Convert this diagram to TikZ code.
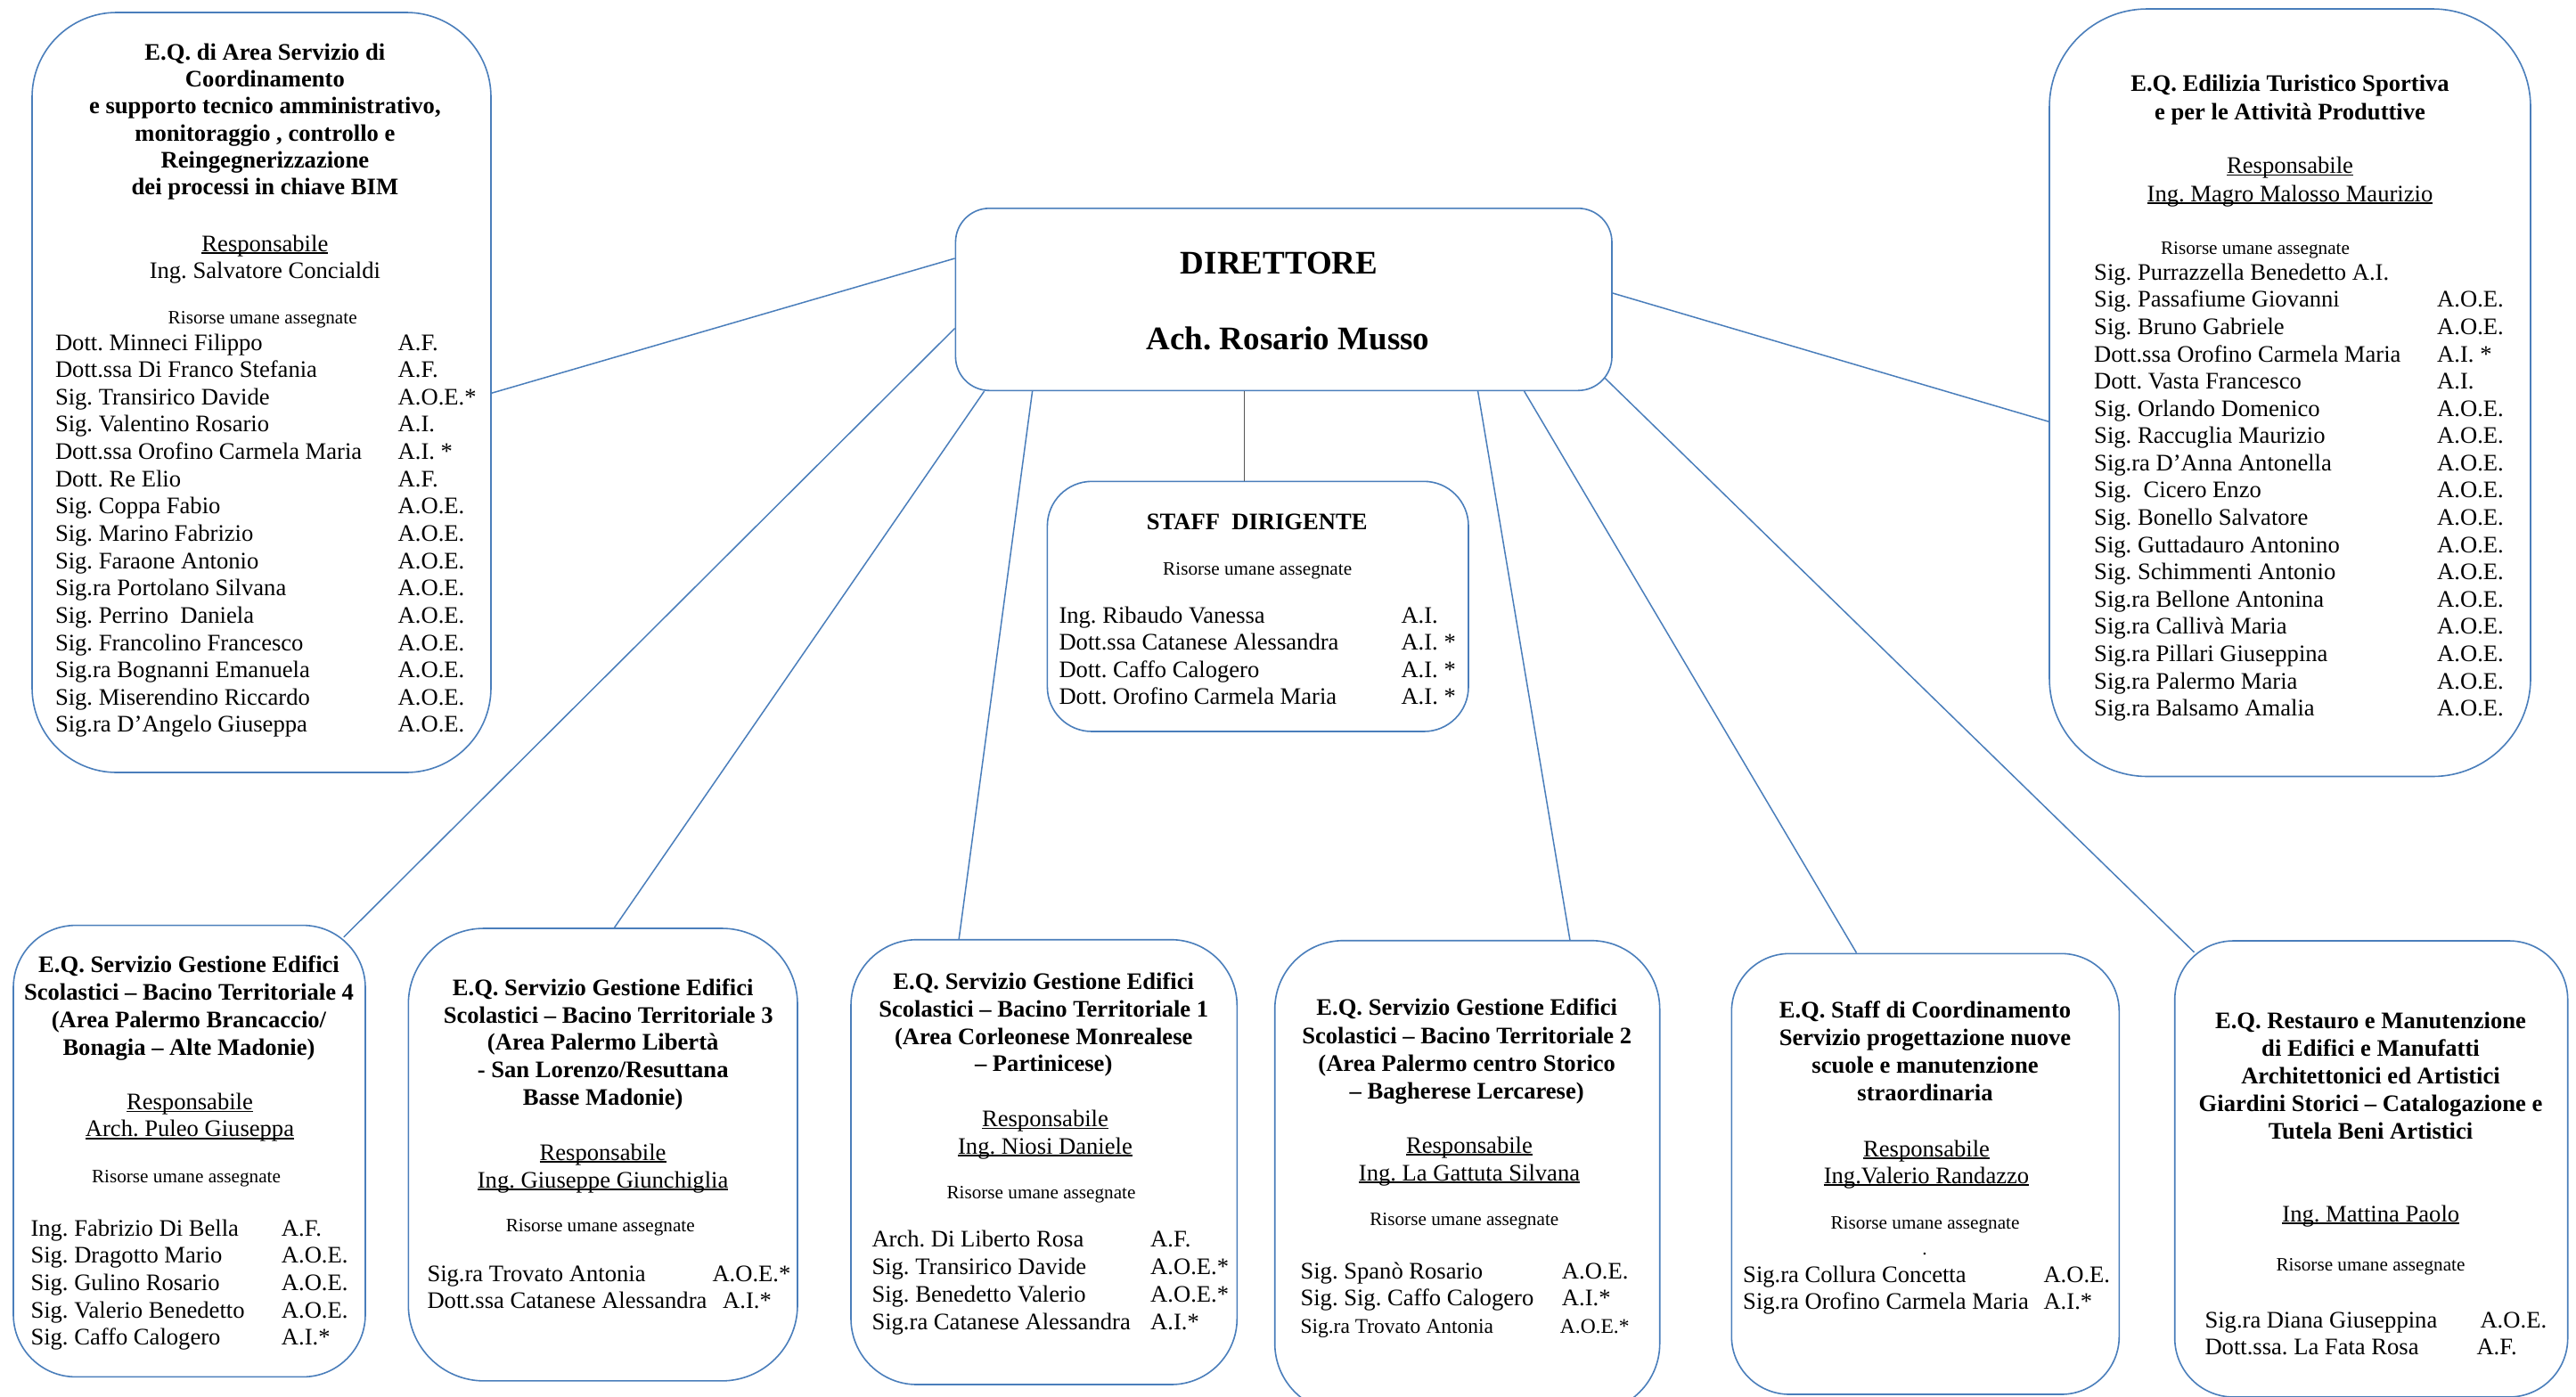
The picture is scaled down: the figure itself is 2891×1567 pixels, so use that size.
\documentclass[tikz,border=0pt]{standalone}
\usepackage{fontspec}
\setmainfont{Liberation Serif}
\frenchspacing
\definecolor{boxblue}{RGB}{74,126,187}
\definecolor{linkgray}{RGB}{85,85,85}
\newlength\ocolw
\newsavebox\ulbx
\newcommand\ulx[1]{\sbox\ulbx{#1}\rlap{\rule[-0.1em]{\wd\ulbx}{0.06em}}\usebox\ulbx}
\newcommand\orow[2]{\makebox[\ocolw][l]{#1}#2}
\tikzset{
  orgbox/.style={draw=boxblue, line width=1.6pt, rounded corners=#1, inner sep=0pt, fill=white},
  link/.style={draw=boxblue, line width=1.5pt},
  ttl/.style={anchor=base, inner sep=0pt, font=\fontsize{26.6}{#1}\selectfont\bfseries},
  ctr/.style={anchor=base, inner sep=0pt, font=\fontsize{26.6}{#1}\selectfont},
  ris/.style={anchor=base, inner sep=0pt, font=\fontsize{21.2}{25}\selectfont},
  lst/.style={anchor=base west, inner sep=0pt, font=\fontsize{26.6}{#1}\selectfont},
  big/.style={anchor=base, inner sep=0pt, font=\fontsize{37}{44}\selectfont\bfseries},
}
\begin{document}
\begin{tikzpicture}[x=1pt,y=-1pt]
\useasboundingbox (0,0) rectangle (2891,1567);
\clip (0,0) rectangle (2891,1567);
\fill[white] (0,0) rectangle (2891,1567);

% boxes
\node[orgbox=95pt, minimum width=515pt, minimum height=853pt] (eqA) at (293.5,440.5) {};
\node[orgbox=110pt, minimum width=540pt, minimum height=861.5pt] (edil) at (2570,440.75) {};
\node[orgbox=38pt, minimum width=736.6pt, minimum height=204.5pt] (dir) at (1440.7,336.05) {};
\node[orgbox=50pt, minimum width=472.6pt, minimum height=280.7pt] (staff) at (1411.7,680.65) {};
\node[orgbox=70pt, minimum width=395pt, minimum height=506.8pt] (b4) at (212.5,1292) {};
\node[orgbox=85pt, minimum width=436.7pt, minimum height=507.9pt] (b3) at (676.65,1295.95) {};
\node[orgbox=74pt, minimum width=433.3pt, minimum height=499.3pt] (b1) at (1171.65,1304.35) {};
\node[orgbox=77pt, minimum width=432pt, minimum height=529.3pt] (b2) at (1646.7,1320.35) {};
\node[orgbox=65pt, minimum width=435pt, minimum height=494.7pt] (sc) at (2160.8,1317.65) {};
\node[orgbox=66pt, minimum width=441pt, minimum height=512pt] (rest) at (2661.2,1312) {};

% connectors
\draw[link] ([yshift=-57pt]dir.north west) -- ([yshift=-428pt]eqA.north east);
\draw[link] ([yshift=-135.5pt]dir.north west) -- ([xshift=-25pt,yshift=-14pt]b4.north east);
\draw[link] ([xshift=33pt]dir.south west) -- ([xshift=232pt]b3.north west);
\draw[link] ([xshift=87pt]dir.south west) -- ([xshift=122pt]b1.north west);
\draw[draw=linkgray, line width=1.5pt] ([xshift=325pt]dir.south west) -- ([xshift=222pt]staff.north west);
\draw[link] ([xshift=587pt]dir.south west) -- ([xshift=332pt]b2.north west);
\draw[link] ([xshift=639pt]dir.south west) -- ([xshift=141pt]sc.north west);
\draw[link] ([xshift=-9pt,yshift=-191pt]dir.north east) -- ([xshift=22.6pt,yshift=-13.6pt]rest.north west);
\draw[link] ([yshift=-96pt]dir.north east) -- ([yshift=-464pt]edil.north west);

% Box A
\node[ttl=30.3] (eqAt) at (297.4,67.3) {\begin{tabular}[t]{@{}c@{}}E.Q. di Area Servizio di\\Coordinamento\\e supporto tecnico amministrativo,\\monitoraggio , controllo e\\Reingegnerizzazione\\dei processi in chiave BIM\end{tabular}};
\node[ctr=30] (eqAr) at (297.4,282) {\begin{tabular}[t]{@{}c@{}}\ulx{Responsabile}\\Ing. Salvatore Concialdi\end{tabular}};
\node[ris] (eqAh) at (294.7,363.6) {Risorse umane assegnate};
\node[lst=30.64] (eqAl) at (61.8,393) {\setlength\ocolw{384.7pt}\begin{tabular}[t]{@{}l@{}}
\orow{Dott. Minneci Filippo}{A.F.}\\
\orow{Dott.ssa Di Franco Stefania}{A.F.}\\
\orow{Sig. Transirico Davide}{A.O.E.*}\\
\orow{Sig. Valentino Rosario}{A.I.}\\
\orow{Dott.ssa Orofino Carmela Maria}{A.I. *}\\
\orow{Dott. Re Elio}{A.F.}\\
\orow{Sig. Coppa Fabio}{A.O.E.}\\
\orow{Sig. Marino Fabrizio}{A.O.E.}\\
\orow{Sig. Faraone Antonio}{A.O.E.}\\
\orow{Sig.ra Portolano Silvana}{A.O.E.}\\
\orow{Sig. Perrino\ \ Daniela}{A.O.E.}\\
\orow{Sig. Francolino Francesco}{A.O.E.}\\
\orow{Sig.ra Bognanni Emanuela}{A.O.E.}\\
\orow{Sig. Miserendino Riccardo}{A.O.E.}\\
\orow{Sig.ra D’Angelo Giuseppa}{A.O.E.}
\end{tabular}};

% Edilizia
\node[ttl=32] (edt) at (2570,102.7) {\begin{tabular}[t]{@{}c@{}}E.Q. Edilizia Turistico Sportiva\\e per le Attività Produttive\end{tabular}};
\node[ctr=31.3] (edr) at (2570,194.7) {\begin{tabular}[t]{@{}c@{}}\ulx{Responsabile}\\\ulx{Ing. Magro Malosso Maurizio}\end{tabular}};
\node[ris] (edh) at (2531,285) {Risorse umane assegnate};
\node[lst=30.58] (edl) at (2350,314.3) {\setlength\ocolw{385pt}\begin{tabular}[t]{@{}l@{}}
Sig. Purrazzella Benedetto A.I.\\
\orow{Sig. Passafiume Giovanni}{A.O.E.}\\
\orow{Sig. Bruno Gabriele}{A.O.E.}\\
\orow{Dott.ssa Orofino Carmela Maria}{A.I. *}\\
\orow{Dott. Vasta Francesco}{A.I.}\\
\orow{Sig. Orlando Domenico}{A.O.E.}\\
\orow{Sig. Raccuglia Maurizio}{A.O.E.}\\
\orow{Sig.ra D’Anna Antonella}{A.O.E.}\\
\orow{Sig.\ \ Cicero Enzo}{A.O.E.}\\
\orow{Sig. Bonello Salvatore}{A.O.E.}\\
\orow{Sig. Guttadauro Antonino}{A.O.E.}\\
\orow{Sig. Schimmenti Antonio}{A.O.E.}\\
\orow{Sig.ra Bellone Antonina}{A.O.E.}\\
\orow{Sig.ra Callivà Maria}{A.O.E.}\\
\orow{Sig.ra Pillari Giuseppina}{A.O.E.}\\
\orow{Sig.ra Palermo Maria}{A.O.E.}\\
\orow{Sig.ra Balsamo Amalia}{A.O.E.}
\end{tabular}};

% Direttore
\node[big] (dirt) at (1435.6,307) {DIRETTORE};
\node[big] (dirn) at (1445.5,392.8) {Ach. Rosario Musso};

% Staff dirigente
\node[ttl=30] (stt) at (1410.7,594.9) {STAFF\ \ DIRIGENTE};
\node[ris] (sth) at (1411.2,645.9) {Risorse umane assegnate};
\node[lst=30.3] (stl) at (1188.3,699.6) {\setlength\ocolw{384pt}\begin{tabular}[t]{@{}l@{}}
\orow{Ing. Ribaudo Vanessa}{A.I.}\\
\orow{Dott.ssa Catanese Alessandra}{A.I. *}\\
\orow{Dott. Caffo Calogero}{A.I. *}\\
\orow{Dott. Orofino Carmela Maria}{A.I. *}
\end{tabular}};

% B4
\node[ttl=31.07] (b4t) at (212,1091.6) {\begin{tabular}[t]{@{}c@{}}E.Q. Servizio Gestione Edifici\\Scolastici – Bacino Territoriale 4\\(Area Palermo Brancaccio/\\Bonagia – Alte Madonie)\end{tabular}};
\node[ctr=30.1] (b4r) at (213,1245.8) {\begin{tabular}[t]{@{}c@{}}\ulx{Responsabile}\\\ulx{Arch. Puleo Giuseppa}\end{tabular}};
\node[ris] (b4h) at (209,1327.3) {Risorse umane assegnate};
\node[lst=30.6] (b4l) at (34.3,1387.2) {\setlength\ocolw{281.4pt}\begin{tabular}[t]{@{}l@{}}
\orow{Ing. Fabrizio Di Bella}{A.F.}\\
\orow{Sig. Dragotto Mario}{A.O.E.}\\
\orow{Sig. Gulino Rosario}{A.O.E.}\\
\orow{Sig. Valerio Benedetto}{A.O.E.}\\
\orow{Sig. Caffo Calogero}{A.I.*}
\end{tabular}};

% B3
\node[ttl=30.8] (b3t) at (676.7,1117.3) {\begin{tabular}[t]{@{}c@{}}E.Q. Servizio Gestione Edifici\\\hspace*{12pt}Scolastici – Bacino Territoriale 3\\(Area Palermo Libertà\\- San Lorenzo/Resuttana\\Basse Madonie)\end{tabular}};
\node[ctr=30.7] (b3r) at (676.6,1302.3) {\begin{tabular}[t]{@{}c@{}}\ulx{Responsabile}\\\ulx{Ing. Giuseppe Giunchiglia}\end{tabular}};
\node[ris] (b3h) at (673.8,1382.7) {Risorse umane assegnate};
\node[lst=30.2] (b3l) at (479.3,1438.2) {\begin{tabular}[t]{@{}l@{}}
\makebox[320pt][l]{Sig.ra Trovato Antonia}A.O.E.*\\
\makebox[331.7pt][l]{Dott.ssa Catanese Alessandra}A.I.*
\end{tabular}};

% B1
\node[ttl=30.8] (b1t) at (1171.2,1110.5) {\begin{tabular}[t]{@{}c@{}}E.Q. Servizio Gestione Edifici\\Scolastici – Bacino Territoriale 1\\(Area Corleonese Monrealese\\– Partinicese)\end{tabular}};
\node[ctr=30.8] (b1r) at (1173,1264.6) {\begin{tabular}[t]{@{}c@{}}\ulx{Responsabile}\\\ulx{Ing. Niosi Daniele}\end{tabular}};
\node[ris] (b1h) at (1168.5,1345.8) {Risorse umane assegnate};
\node[lst=30.8] (b1l) at (978.3,1399.9) {\setlength\ocolw{312.7pt}\begin{tabular}[t]{@{}l@{}}
\orow{Arch. Di Liberto Rosa}{A.F.}\\
\orow{Sig. Transirico Davide}{A.O.E.*}\\
\orow{Sig. Benedetto Valerio}{A.O.E.*}\\
\orow{Sig.ra Catanese Alessandra}{A.I.*}
\end{tabular}};

% B2
\node[ttl=31.4] (b2t) at (1646.2,1139.6) {\begin{tabular}[t]{@{}c@{}}E.Q. Servizio Gestione Edifici\\Scolastici – Bacino Territoriale 2\\(Area Palermo centro Storico\\– Bagherese Lercarese)\end{tabular}};
\node[ctr=30.8] (b2r) at (1649,1294.4) {\begin{tabular}[t]{@{}c@{}}\ulx{Responsabile}\\\ulx{Ing. La Gattuta Silvana}\end{tabular}};
\node[ris] (b2h) at (1643.3,1375.9) {Risorse umane assegnate};
\node[lst=30.8] (b2l) at (1459.3,1435) {\setlength\ocolw{293.4pt}\begin{tabular}[t]{@{}l@{}}
\orow{Sig. Spanò Rosario}{A.O.E.}\\
\orow{Sig. Sig. Caffo Calogero}{A.I.*}\\
{\fontsize{23.5}{27}\selectfont\makebox[291.4pt][l]{Sig.ra Trovato Antonia}A.O.E.*}
\end{tabular}};

% Staff di coordinamento
\node[ttl=31] (sct) at (2160.5,1142.5) {\begin{tabular}[t]{@{}c@{}}E.Q. Staff di Coordinamento\\Servizio progettazione nuove\\scuole e manutenzione\\straordinaria\end{tabular}};
\node[ctr=30.2] (scr) at (2162,1298.2) {\begin{tabular}[t]{@{}c@{}}\ulx{Responsabile}\\\ulx{Ing.Valerio Randazzo}\end{tabular}};
\node[ris] (sch) at (2160.5,1379.5) {Risorse umane assegnate};
\node[ris] (scd) at (2160,1408) {.};
\node[lst=30.3] (scl) at (1956,1439.3) {\setlength\ocolw{337.3pt}\begin{tabular}[t]{@{}l@{}}
\orow{Sig.ra Collura Concetta}{A.O.E.}\\
\orow{Sig.ra Orofino Carmela Maria}{A.I.*}
\end{tabular}};

% Restauro
\node[ttl=31.1] (rt) at (2660.5,1154.3) {\begin{tabular}[t]{@{}c@{}}E.Q. Restauro e Manutenzione\\di Edifici e Manufatti\\Architettonici ed Artistici\\Giardini Storici – Catalogazione e\\Tutela Beni Artistici\end{tabular}};
\node[ctr=30] (rr) at (2660.8,1371.1) {\ulx{Ing. Mattina Paolo}};
\node[ris] (rh) at (2660.5,1426.7) {Risorse umane assegnate};
\node[lst=30] (rl) at (2474.3,1490.7) {\begin{tabular}[t]{@{}l@{}}
\makebox[309pt][l]{Sig.ra Diana Giuseppina}A.O.E.\\
\makebox[305pt][l]{Dott.ssa. La Fata Rosa}A.F.
\end{tabular}};
\end{tikzpicture}
\end{document}
